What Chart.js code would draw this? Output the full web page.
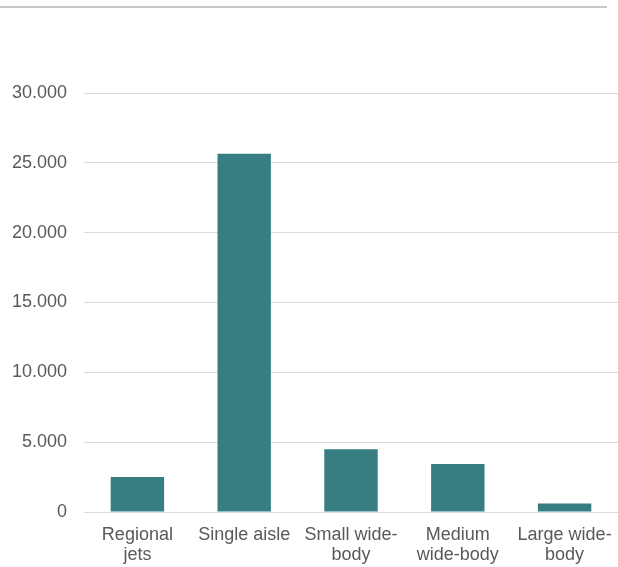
<!DOCTYPE html>
<html>
<head>
<meta charset="utf-8">
<script src="https://cdn.jsdelivr.net/npm/chart.js@4/dist/chart.umd.min.js"></script>
<style>
  html, body { margin: 0; padding: 0; background: #ffffff; }
  #wrap { width: 618px; height: 567px; position: relative; }
</style>
</head>
<body>
<div id="wrap"><canvas id="c"></canvas></div>
<script>
// Aircraft deliveries by segment
const categories = [["Regional", "jets"], "Single aisle", ["Small wide-", "body"], ["Medium", "wide-body"], ["Large wide-", "body"]];
const deliveries = [2500, 25650, 4500, 3440, 600];
const yTicks = [0, 5000, 10000, 15000, 20000, 25000, 30000];

const fmt = v => String(v).replace(/\B(?=(\d{3})+(?!\d))/g, ".");

// thin rule across the top of the figure
const topRule = {
  id: 'topRule',
  beforeDraw(chart) {
    const ctx = chart.ctx;
    ctx.save();
    ctx.strokeStyle = '#c8c8c8';
    ctx.lineWidth = 2;
    ctx.beginPath();
    ctx.moveTo(0, 7);
    ctx.lineTo(607, 7);
    ctx.stroke();
    ctx.restore();
  }
};

new Chart(document.getElementById('c'), {
  type: 'bar',
  data: {
    labels: categories,
    datasets: [{
      data: deliveries,
      backgroundColor: '#377e83',
      borderWidth: 0,
      categoryPercentage: 0.5,
      barPercentage: 1.0
    }]
  },
  options: {
    responsive: true,
    maintainAspectRatio: false,
    animation: false,
    layout: { padding: { top: 93, left: 12, right: 0, bottom: 0 } },
    plugins: { legend: { display: false }, tooltip: { enabled: false } },
    scales: {
      x: {
        grid: { display: false, drawTicks: false },
        border: { display: true, color: '#d9d9d9', width: 1 },
        ticks: {
          color: '#595959',
          padding: 13,
          maxRotation: 0,
          autoSkip: false,
          font: { family: '"Liberation Sans", Arial, sans-serif', size: 18, lineHeight: 1.1 }
        },
        afterFit(axis) {
          axis.height = 55;
          axis.paddingLeft = 0;
          axis.paddingRight = 0;
        }
      },
      y: {
        min: 0,
        max: 30000,
        afterBuildTicks(axis) { axis.ticks = yTicks.map(v => ({ value: v })); },
        grid: { color: '#d9d9d9', lineWidth: 1, drawTicks: false },
        border: { display: false },
        ticks: {
          color: '#595959',
          padding: 17,
          callback: v => fmt(v),
          font: { family: '"Liberation Sans", Arial, sans-serif', size: 18 }
        },
        afterFit(axis) {
          axis.width = 72;
          axis.paddingTop = 0;
          axis.paddingBottom = 0;
        }
      }
    }
  },
  plugins: [topRule]
});
</script>
</body>
</html>
